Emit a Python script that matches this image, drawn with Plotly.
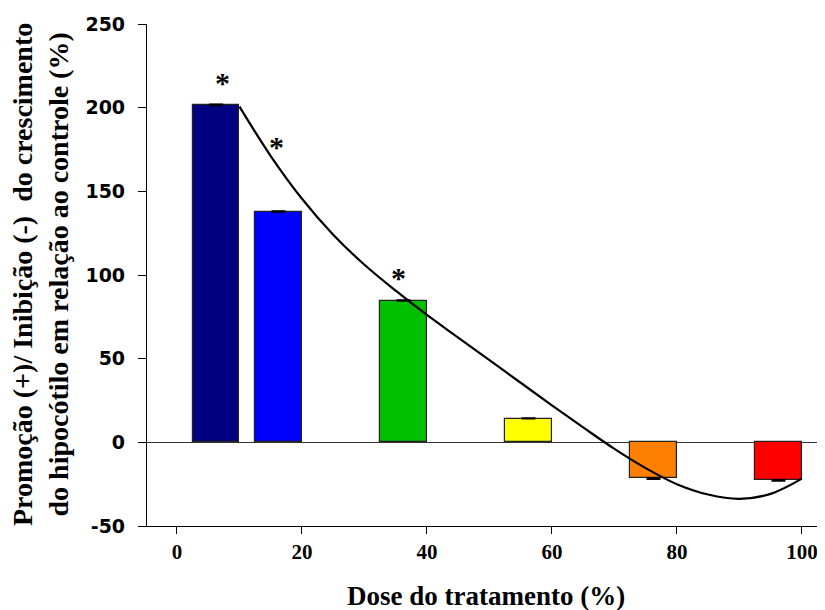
import plotly.graph_objects as go

# ---- data ----
doses = [10, 20, 40, 60, 80, 100]
growth_pct = [201.3, 137.6, 84.5, 14.1, -21.3, -22.3]
errors = [0.8, 0.6, 0.5, 0.5, 0.8, 0.8]
bar_colors = ["#000080", "#0000FF", "#00C000", "#FFFF00", "#FF8000", "#FF0000"]

curve_x = [10, 15, 20, 25, 30, 35, 40, 45, 50, 55, 60, 65, 70, 75, 80, 85, 90, 95, 100]
curve_y = [200.6, 171.1, 145.6, 124.1, 106.1, 90.6, 76.1, 62.6, 49.1, 35.6, 22.1, 8.9, -3.9,
           -15.4, -25.0, -31.2, -33.8, -30.8, -21.7]

star_x = [7.3, 15.9, 35.4]
star_y = [216, 177.7, 99.8]

x_ticks = [0, 20, 40, 60, 80, 100]
y_ticks = [-50, 0, 50, 100, 150, 200, 250]

# ---- figure ----
BAR_W = 7.5
bar_x = [d - BAR_W / 2 for d in doses]
err_plus = [e if v >= 0 else 0 for v, e in zip(growth_pct, errors)]
err_minus = [0 if v >= 0 else e for v, e in zip(growth_pct, errors)]

SERIF = "Times New Roman"
SANS = "DejaVu Sans"

fig = go.Figure()
fig.add_trace(go.Bar(
    x=bar_x, y=growth_pct, width=BAR_W,
    marker=dict(color=bar_colors, line=dict(color="#222222", width=1.2)),
    error_y=dict(type="data", array=err_plus, arrayminus=err_minus,
                 color="black", thickness=1.5, width=7),
    showlegend=False,
))
fig.add_trace(go.Scatter(
    x=curve_x, y=curve_y, mode="lines",
    line=dict(color="black", width=2.2, shape="spline", smoothing=1.0),
    showlegend=False,
))

for sx, sy in zip(star_x, star_y):
    fig.add_annotation(x=sx, y=sy, xref="x", yref="y", text="<b>*</b>", showarrow=False,
                       font=dict(family=SERIF, size=30, color="black"),
                       yshift=-2)

fig.add_annotation(xref="paper", yref="paper", x=0.5, y=0, yanchor="middle", yshift=-70,
                   text="<b>Dose do tratamento (%)</b>", showarrow=False,
                   font=dict(family=SERIF, size=27, color="black"))
fig.add_annotation(xref="paper", yref="paper", x=0, y=0.5, xanchor="center", yanchor="middle",
                   xshift=-107, textangle=-90,
                   text="<b>Promoção (+)/ Inibição (-)&nbsp; do crescimento<br>do hipocótilo em relação ao controle (%)</b>",
                   showarrow=False,
                   font=dict(family=SERIF, size=28, color="black"))

# the page body has an 8px default margin, so the figure is sized to end at the window edge
fig.update_layout(
    width=817, height=602,
    margin=dict(l=139, r=0, t=16, b=84),
    plot_bgcolor="white", paper_bgcolor="white",
    bargap=0,
)
fig.update_xaxes(
    range=[-4.8, 103.7], tickvals=x_ticks, ticktext=[f"<b>{t}</b>" for t in x_ticks],
    ticks="outside", ticklen=7, tickwidth=1.2,
    tickcolor="black", showline=True, linecolor="black", linewidth=1.2,
    showgrid=False, zeroline=False, automargin=False,
    tickfont=dict(family=SERIF, size=21, color="black"),
)
fig.update_yaxes(
    range=[-50, 250], tickvals=y_ticks, ticktext=[f"<b>{t}</b>" for t in y_ticks],
    ticks="outside", ticklen=8, tickwidth=1.2,
    tickcolor="black", showline=True, linecolor="black", linewidth=1.2,
    showgrid=False, zeroline=True, zerolinecolor="#333333", zerolinewidth=1.2,
    automargin=False, ticklabelstandoff=9,
    tickfont=dict(family=SANS, size=19, color="black"),
)

fig.write_html("out.html")
